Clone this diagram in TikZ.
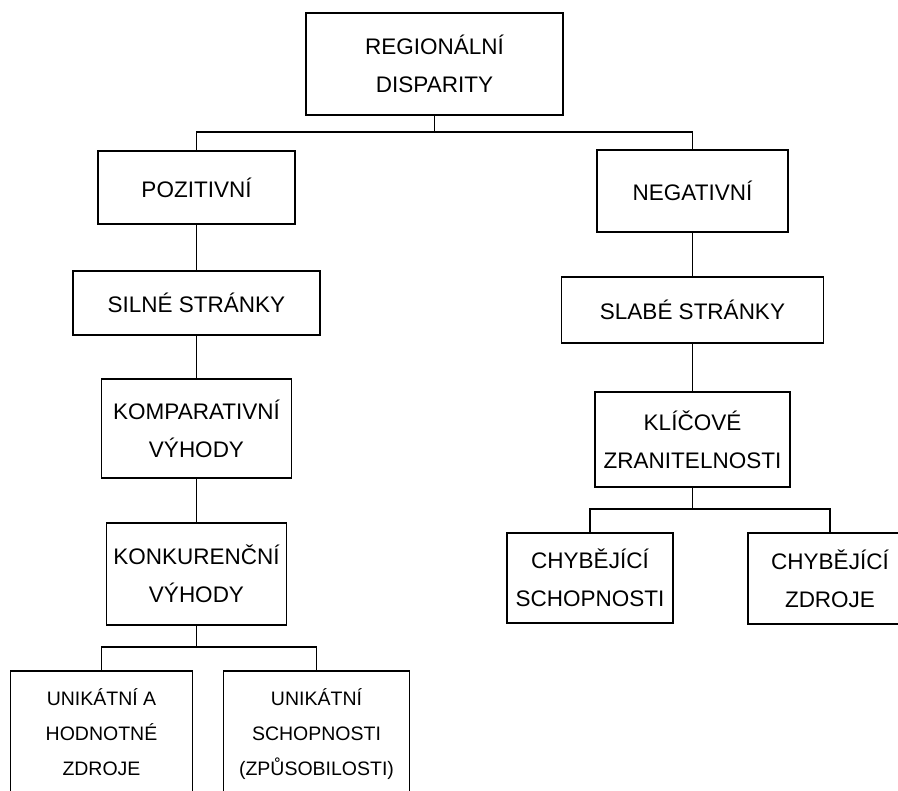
\documentclass[tikz,border=0pt]{standalone}
\usepackage{fontspec}
\setmainfont{Liberation Sans}
\usetikzlibrary{positioning}

\newcommand{\boxfont}{\fontsize{22.5}{38}\selectfont}
\newcommand{\tallfont}{\fontsize{19.5}{35}\selectfont}

\begin{document}
\begin{tikzpicture}[
box/.style 2 args={draw=black, line width=1.8pt, align=center, font=\boxfont, inner sep=0pt, outer sep=0pt, minimum width=#1pt, minimum height=#2pt},
tall/.style={font=\tallfont, inner ysep=18pt, text depth=14pt},
link/.style={line width=1.6pt},
node distance=45pt
]
\useasboundingbox (0,0) rectangle (898pt,-791pt);
\clip (0,0) rectangle (898pt,-791pt);

%Nodes
\node[box={257}{102}]      (reg)    at (434.5pt,-64pt)                    {REGIONÁLNÍ\\DISPARITY};
\node[box={197}{73}]       (poz)    [below=36pt of reg, xshift=-238pt]    {POZITIVNÍ};
\node[box={191}{82}]       (neg)    [below=35pt of reg, xshift=258pt]     {NEGATIVNÍ};
\node[box={247}{64}]       (silne)  [below=47pt of poz]                   {SILNÉ STRÁNKY};
\node[box={262}{66}]       (slabe)  [below=of neg]                        {SLABÉ STRÁNKY};
\node[box={190}{99}]       (komp)   [below=44pt of silne]                 {KOMPARATIVNÍ\\VÝHODY};
\node[box={195}{95}]       (klic)   [below=49pt of slabe]                 {KLÍČOVÉ\\ZRANITELNOSTI};
\node[box={180}{102}]      (konk)   [below=of komp]                       {KONKURENČNÍ\\VÝHODY};
\node[box={166}{90}]       (chsch)  [below=46pt of klic, xshift=-102.5pt] {CHYBĚJÍCÍ\\SCHOPNOSTI};
\node[box={164}{91}]       (chzdr)  [below=46pt of klic, xshift=137.5pt]  {CHYBĚJÍCÍ\\ZDROJE};
\node[box={182}{0},tall]   (unia)   [below=46pt of konk, xshift=-95pt]    {UNIKÁTNÍ A\\HODNOTNÉ\\ZDROJE};
\node[box={186}{0},tall]   (unisch) [below=46pt of konk, xshift=120pt]    {UNIKÁTNÍ\\SCHOPNOSTI\\(ZPŮSOBILOSTI)};

%Lines
\draw[link] (reg.south) -- ++(0,-17pt) -| (poz.north);
\draw[link] (reg.south) -- ++(0,-17pt) -| (neg.north);
\draw[link] (poz) -- (silne);
\draw[link] (silne) -- (komp);
\draw[link] (komp) -- (konk);
\draw[link] (neg) -- (slabe);
\draw[link] (slabe) -- (klic);
\draw[link] (konk.south) -- ++(0,-22pt) -| (unia.north);
\draw[link] (konk.south) -- ++(0,-22pt) -| (unisch.north);
\draw[link] (klic.south) -- ++(0,-22pt) -| (chsch.north);
\draw[link] (klic.south) -- ++(0,-22pt) -| (chzdr.north);
\end{tikzpicture}
\end{document}
